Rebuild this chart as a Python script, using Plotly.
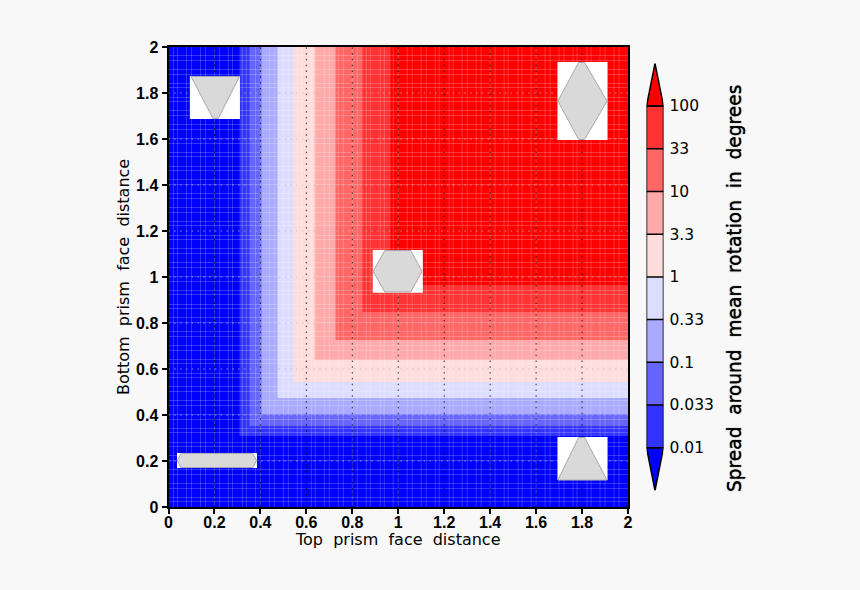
import plotly.graph_objects as go

# band edges (same along both face distances)
band_edges = [0, 0.308, 0.354, 0.405, 0.476, 0.545, 0.637, 0.726, 0.846, 0.966, 2]
band_colors = ["#0000ff", "#3333ff", "#6666ff", "#aaaaff", "#ddddff",
               "#ffdddd", "#ffaaaa", "#ff6666", "#ff3333", "#ff0000"]
bar_labels = ["0.01", "0.033", "0.1", "0.33", "1", "3.3", "10", "33", "100"]
tick_vals = [0, 0.2, 0.4, 0.6, 0.8, 1, 1.2, 1.4, 1.6, 1.8, 2]
tick_text = ["0", "0.2", "0.4", "0.6", "0.8", "1", "1.2", "1.4", "1.6", "1.8", "2"]

inset_rects = [
    ([0.093, 0.311], [1.687, 1.874]),
    ([1.693, 1.911], [1.596, 1.935]),
    ([0.889, 1.107], [0.932, 1.117]),
    ([1.693, 1.911], [0.117, 0.304]),
    ([0.037, 0.385], [0.170, 0.235]),
]
inset_polys = [
    ([0.098, 0.309, 0.217, 0.193], [1.872, 1.872, 1.690, 1.690]),
    ([1.785, 1.811, 1.909, 1.811, 1.785, 1.695], [1.933, 1.933, 1.765, 1.598, 1.598, 1.765]),
    ([0.891, 0.941, 1.054, 1.104, 1.054, 0.941], [1.024, 1.115, 1.115, 1.024, 0.935, 0.935]),
    ([1.785, 1.811, 1.909, 1.695], [0.302, 0.302, 0.117, 0.117]),
    ([0.039, 0.054, 0.367, 0.383, 0.367, 0.054], [0.202, 0.233, 0.233, 0.202, 0.172, 0.172]),
]

W, H = 860, 590
n = len(band_colors)
scale = []
for i, c in enumerate(band_colors):
    scale += [[i / n, c], [(i + 1) / n, c]]

fig = go.Figure()
z = [[min(i, j) for i in range(n)] for j in range(n)]
fig.add_trace(go.Heatmap(x=band_edges, y=band_edges, z=z, zmin=-0.5, zmax=n - 0.5,
                         colorscale=scale, showscale=False, hoverinfo="skip"))

# faint cell seams of the gridded field, snapped to whole pixels of the 230 px/unit plot
seams = [round(0.02 * k * 230) for k in range(1, 100) if k % 3]
sx, sy = [], []
for s in seams:
    sx += [s / 230, s / 230, None, 0, 2, None]
    sy += [0, 2, None, (s + 0.5) / 230, (s + 0.5) / 230, None]
fig.add_trace(go.Scatter(x=sx, y=sy, mode="lines", hoverinfo="skip", showlegend=False,
                         line=dict(color="rgba(255,255,255,0.2)", width=1)))

# dotted grid
for t in tick_vals[1:-1]:
    fig.add_trace(go.Scatter(x=[0, 2], y=[t, t], mode="lines", hoverinfo="skip", showlegend=False,
                             line=dict(color="rgba(185,185,185,0.75)", width=1, dash="1.5px,4.3px")))
for t in tick_vals[1:-1]:
    fig.add_trace(go.Scatter(x=[t, t], y=[0, 2], mode="lines", hoverinfo="skip", showlegend=False,
                             line=dict(color="rgba(0,0,0,0.8)", width=1, dash="1.5px,4.3px")))

# prism cross sections
for (rx, ry), (px, py) in zip(inset_rects, inset_polys):
    fig.add_trace(go.Scatter(x=[rx[0], rx[1], rx[1], rx[0], rx[0]], y=[ry[0], ry[0], ry[1], ry[1], ry[0]],
                             mode="lines", fill="toself", fillcolor="white", hoverinfo="skip",
                             showlegend=False, line=dict(color="white", width=0)))
    fig.add_trace(go.Scatter(x=px + px[:1], y=py + py[:1], mode="lines", fill="toself",
                             fillcolor="#d9d9d9", hoverinfo="skip", showlegend=False,
                             line=dict(color="#a8a8a8", width=1)))

# colour key
nb = len(bar_labels)
fig.add_trace(go.Heatmap(x=[0, 1], y=list(range(nb)), z=[[i] for i in range(1, nb)],
                         zmin=-0.5, zmax=n - 0.5, colorscale=scale, showscale=False,
                         hoverinfo="skip", xaxis="x2", yaxis="y2"))
fig.add_trace(go.Scatter(x=[0, 1, 0.5, 0], y=[nb - 1, nb - 1, nb, nb - 1], mode="lines", fill="toself",
                         fillcolor=band_colors[-1], line=dict(color="black", width=1.5),
                         hoverinfo="skip", showlegend=False, xaxis="x2", yaxis="y2", cliponaxis=False))
fig.add_trace(go.Scatter(x=[0, 1, 0.5, 0], y=[0, 0, -1, 0], mode="lines", fill="toself",
                         fillcolor=band_colors[0], line=dict(color="black", width=1.5),
                         hoverinfo="skip", showlegend=False, xaxis="x2", yaxis="y2", cliponaxis=False))
bx, by = [0, 0, None, 1, 1, None], [0, nb - 1, None, 0, nb - 1, None]
for i in range(nb):
    bx += [0, 1, None]
    by += [i, i, None]
fig.add_trace(go.Scatter(x=bx, y=by, mode="lines", line=dict(color="black", width=1.5), cliponaxis=False,
                         hoverinfo="skip", showlegend=False, xaxis="x2", yaxis="y2"))

axis_common = dict(range=[0, 2], tickmode="array", tickvals=tick_vals, ticktext=tick_text,
                   showgrid=False, zeroline=False, showline=True, mirror=True, linecolor="black",
                   linewidth=2, ticks="outside", ticklen=5, tickwidth=2, tickcolor="black",
                   automargin=False,
                   tickfont=dict(family="Liberation Sans", size=16, color="black", weight="bold"))
fig.update_layout(
    width=W, height=H, margin=dict(l=0, r=0, t=0, b=0, pad=0, autoexpand=False),
    paper_bgcolor="#f8f8f8", plot_bgcolor="#f8f8f8", showlegend=False,
    xaxis=dict(domain=[168.5 / W, 628 / W], anchor="y", ticklabelstandoff=-5, **axis_common),
    yaxis=dict(domain=[(H - 507) / H, (H - 47) / H], anchor="x", **axis_common),
    xaxis2=dict(domain=[646.5 / W, 663.5 / W], range=[0, 1], anchor="y2", visible=False),
    yaxis2=dict(domain=[(H - 490.5) / H, (H - 63.3) / H], range=[-1, nb], anchor="x2", side="right",
                tickmode="array", tickvals=list(range(nb)), ticktext=bar_labels, showgrid=False,
                zeroline=False, showline=False, ticks="", ticklabelstandoff=5, automargin=False,
                tickfont=dict(family="DejaVu Sans", size=15.5, color="black")),
    annotations=[
        dict(text="Top\u00a0\u00a0prism\u00a0\u00a0face\u00a0\u00a0distance", xref="paper", yref="paper",
             x=398 / W, y=(H - 539.5) / H, showarrow=False, xanchor="center", yanchor="middle",
             font=dict(family="DejaVu Sans", size=16, color="black")),
        dict(text="Bottom\u00a0\u00a0prism\u00a0\u00a0face\u00a0\u00a0distance", xref="paper", yref="paper",
             x=123 / W, y=(H - 277) / H, textangle=-90, showarrow=False, xanchor="center", yanchor="middle",
             font=dict(family="DejaVu Sans", size=16, color="black")),
        dict(text="Spread\u00a0\u00a0around\u00a0\u00a0mean\u00a0\u00a0rotation\u00a0\u00a0in\u00a0\u00a0degrees",
             xref="paper", yref="paper", x=734 / W, y=(H - 289) / H, textangle=-90, showarrow=False,
             xanchor="center", yanchor="middle",
             font=dict(family="DejaVu Sans", size=18.6, color="black", shadow="0 0 1px black")),
    ],
)
fig.write_html("out.html", config=dict(displayModeBar=False), post_script="document.body.style.margin='0';")
